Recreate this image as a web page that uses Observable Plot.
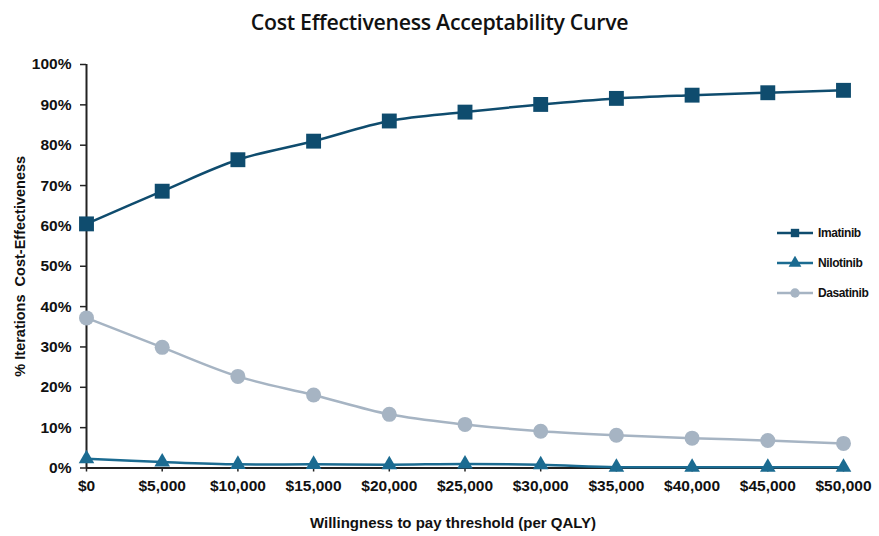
<!DOCTYPE html>
<html>
<head>
<meta charset="utf-8">
<script src="https://cdn.jsdelivr.net/npm/d3@7"></script>
<script src="https://cdn.jsdelivr.net/npm/@observablehq/plot@0.6"></script>
<style>
  html, body { margin: 0; padding: 0; background: #fff; }
  #wrap { position: relative; width: 879px; height: 536px; overflow: hidden; background: #fff; }
  #title {
    height: 44px; line-height: 44px; text-align: center;
    font-family: "Open Sans", sans-serif; font-weight: 600; font-size: 21.3px;
    letter-spacing: -0.3px; color: #111;
  }
  #legend { position: absolute; left: 776px; top: 218px; font-family: "Liberation Sans", Arial, sans-serif; font-weight: bold; font-size: 12px; letter-spacing: -0.4px; color: #111; }
  #legend .row { display: flex; align-items: center; height: 30px; }
  #legend svg { margin-right: 4px; }
  svg.chart text { font-family: "Liberation Sans", Arial, sans-serif; font-weight: bold; fill: #111; }
  svg.chart g[aria-label="y-axis label"] text { font-size: 14.5px; }
</style>
</head>
<body>
<div id="wrap">
  <div id="title">Cost Effectiveness Acceptability Curve</div>
  <div id="chart"></div>
  <div id="legend"></div>
</div>
<script>
// Willingness-to-pay thresholds (USD per QALY)
const thresholds = [0, 5000, 10000, 15000, 20000, 25000, 30000, 35000, 40000, 45000, 50000];

// Share of iterations (%) in which each drug is the cost-effective option
const imatinib  = [60.5, 68.6, 76.4, 81.0, 86.0, 88.2, 90.1, 91.6, 92.4, 93.0, 93.6];
const nilotinib = [2.3, 1.5, 0.9, 0.9, 0.8, 1.0, 0.8, 0.2, 0.2, 0.2, 0.2];
const dasatinib = [37.2, 29.9, 22.7, 18.1, 13.3, 10.8, 9.1, 8.1, 7.4, 6.8, 6.1];

const seriesNames = ["Imatinib", "Nilotinib", "Dasatinib"];
const seriesColors = ["#0f4c6e", "#1b6b91", "#a6b4c3"];
const yTicks = [0, 10, 20, 30, 40, 50, 60, 70, 80, 90, 100];
const xTitle = "Willingness to pay threshold (per QALY)";

const rows = [];
[imatinib, nilotinib, dasatinib].forEach((vals, i) => {
  vals.forEach((v, j) => rows.push({series: seriesNames[i], wtp: thresholds[j], pct: v}));
});
const bySeries = name => rows.filter(d => d.series === name);

const colorOf = name => seriesColors[seriesNames.indexOf(name)];

const chart = Plot.plot({
  width: 879,
  height: 492,
  marginTop: 20,
  marginBottom: 68.5,
  marginLeft: 86,
  marginRight: 36,
  style: {fontSize: "15.5px", background: "white", overflow: "visible"},
  className: "chart",
  x: {domain: [0, 50000]},
  y: {domain: [0, 100]},
  marks: [
    Plot.axisY({
      ticks: yTicks, tickFormat: d => `${d}%`, tickSize: 6, tickPadding: 9,
      stroke: "#222", strokeWidth: 1.5,
      label: "% Iterations  Cost-Effectiveness", labelAnchor: "center", labelArrow: "none", labelOffset: 72
    }),
    Plot.axisX({
      ticks: thresholds, tickFormat: d => "$" + d3.format(",")(d), tickSize: 4, tickPadding: 8,
      stroke: "#222", strokeWidth: 1.5, label: null
    }),
    // x-axis title, set slightly left of the frame centre
    Plot.text([xTitle], {text: d => d, frameAnchor: "bottom", lineAnchor: "middle", dy: 55.5, dx: -12, fontSize: 15}),
    Plot.ruleX([0], {stroke: "#222", strokeWidth: 2}),
    Plot.ruleY([0], {stroke: "#222", strokeWidth: 2}),
    // Imatinib
    Plot.line(bySeries("Imatinib"), {x: "wtp", y: "pct", stroke: colorOf("Imatinib"), strokeWidth: 2.5, curve: "catmull-rom"}),
    Plot.dot(bySeries("Imatinib"), {x: "wtp", y: "pct", symbol: "square", r: 8.4, fill: colorOf("Imatinib")}),
    // Nilotinib
    Plot.line(bySeries("Nilotinib"), {x: "wtp", y: "pct", stroke: colorOf("Nilotinib"), strokeWidth: 2.5, curve: "catmull-rom"}),
    Plot.dot(bySeries("Nilotinib"), {x: "wtp", y: "pct", symbol: "triangle", r: 5.8, fill: colorOf("Nilotinib")}),
    // Dasatinib
    Plot.line(bySeries("Dasatinib"), {x: "wtp", y: "pct", stroke: colorOf("Dasatinib"), strokeWidth: 2.5, curve: "catmull-rom"}),
    Plot.dot(bySeries("Dasatinib"), {x: "wtp", y: "pct", symbol: "circle", r: 7.5, fill: colorOf("Dasatinib")})
  ]
});
document.getElementById("chart").appendChild(chart);

// Legend: short line with the series marker, then the name
const legend = d3.select("#legend");
const symbols = {Imatinib: d3.symbolSquare, Nilotinib: d3.symbolTriangle, Dasatinib: d3.symbolCircle};
seriesNames.forEach(name => {
  const row = legend.append("div").attr("class", "row");
  const s = row.append("svg").attr("width", 38).attr("height", 14);
  s.append("line").attr("x1", 1).attr("x2", 37).attr("y1", 7).attr("y2", 7)
    .attr("stroke", colorOf(name)).attr("stroke-width", 2.5);
  s.append("path").attr("transform", "translate(19,7)")
    .attr("d", d3.symbol(symbols[name], 70)()).attr("fill", colorOf(name));
  row.append("span").text(name);
});
</script>
</body>
</html>
